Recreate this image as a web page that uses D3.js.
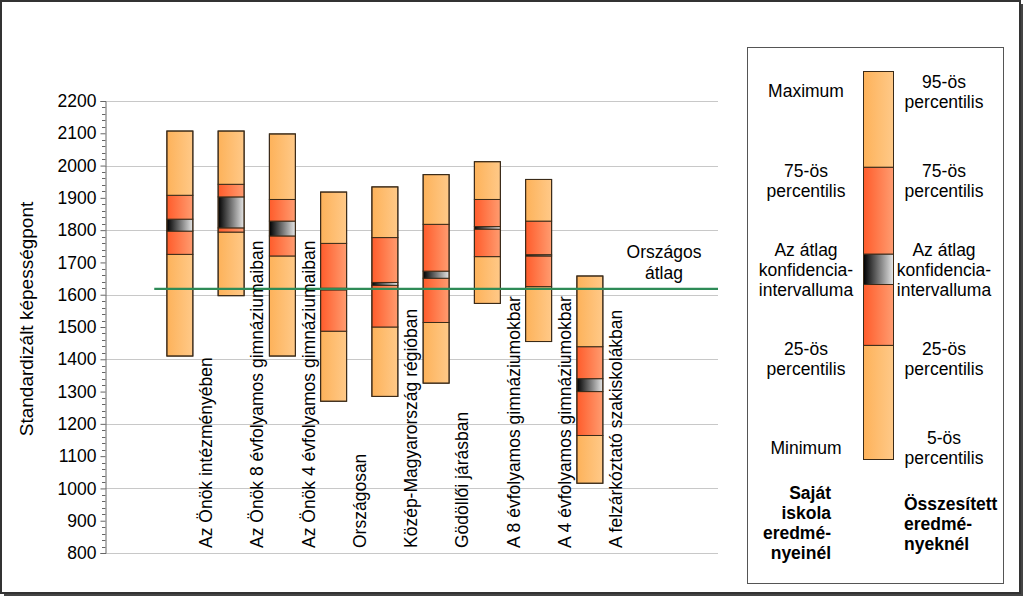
<!DOCTYPE html>
<html><head><meta charset="utf-8">
<script src="https://cdn.jsdelivr.net/npm/d3@7/dist/d3.min.js"></script>
<style>
body{margin:0;background:#fff;}
svg{display:block;font-family:"Liberation Sans",Arial,sans-serif;}
</style></head>
<body><svg id="c" width="1024" height="597"></svg>
<script>
const categories = ["Az Önök intézményében","Az Önök 8 évfolyamos gimnáziumaiban","Az Önök 4 évfolyamos gimnáziumaiban","Országosan","Közép-Magyarország régióban","Gödöllői járásban","A 8 évfolyamos gimnáziumokbar","A 4 évfolyamos gimnáziumokbar","A felzárkóztató szakiskolákban"];
const lowVals  = [1410, 1597, 1410, 1270, 1285, 1326, 1573, 1455, 1016];
const p25Vals  = [1725, 1794, 1720, 1487, 1500, 1514, 1718, 1625, 1164];
const ciLow    = [1797, 1807, 1782, 1615, 1629, 1651, 1803, 1720, 1300];
const ciHigh   = [1834, 1903, 1828, 1620, 1638, 1673, 1811, 1724, 1340];
const p75Vals  = [1908, 1942, 1895, 1759, 1777, 1818, 1895, 1828, 1439];
const highVals = [2107, 2107, 2098, 1918, 1934, 1972, 2012, 1957, 1658];
const nationalAvg = 1618;
const yTicks = [800,900,1000,1100,1200,1300,1400,1500,1600,1700,1800,1900,2000,2100,2200];
const gridTicks = [800,1000,1200,1400,1600,1800,2000,2200];
const legendLeft = [["Maximum"],["75-ös","percentilis"],["Az átlag","konfidencia-","intervalluma"],["25-ös","percentilis"],["Minimum"]];
const legendRight = [["95-ös","percentilis"],["75-ös","percentilis"],["Az átlag","konfidencia-","intervalluma"],["25-ös","percentilis"],["5-ös","percentilis"]];

const svg = d3.select("#c");
const defs = svg.append("defs");
function grad(id, c0, c1){
  const g = defs.append("linearGradient").attr("id",id).attr("x1","0").attr("x2","1").attr("y1","0").attr("y2","0");
  g.append("stop").attr("offset","0").attr("stop-color",c0);
  g.append("stop").attr("offset","1").attr("stop-color",c1);
}
grad("gO","#fdb25a","#ffc988");
grad("gR","#ff5c2b","#ff9c70");
grad("gC","#000000","#e6e6e6");

// outer frame
svg.append("rect").attr("x",1).attr("y",1).attr("width",1019).attr("height",592)
  .attr("fill","none").attr("stroke","#333").attr("stroke-width",2);
svg.append("line").attr("x1",1022).attr("x2",1022).attr("y1",4).attr("y2",595).attr("stroke","#444").attr("stroke-width",2);
svg.append("line").attr("x1",4).attr("x2",1023).attr("y1",595).attr("y2",595).attr("stroke","#444").attr("stroke-width",2);

const y = d3.scaleLinear().domain([800,2200]).range([553,101]);
const x = d3.scaleBand().domain(d3.range(-1,11)).range([103,718]);
const bw = 26;

// gridlines
svg.append("g").selectAll("line").data(gridTicks).join("line")
  .attr("x1",105).attr("x2",718).attr("y1",d=>Math.round(y(d))+0.5).attr("y2",d=>Math.round(y(d))+0.5)
  .attr("stroke","#c8c8c8").attr("stroke-width",1);

// axis
const axis = d3.axisLeft(y).tickValues(yTicks).tickSize(5).tickPadding(4).tickFormat(d3.format("d"));
const ag = svg.append("g").attr("transform","translate(105.5,0)").call(axis);
ag.select(".domain").attr("stroke","#666");
ag.selectAll(".tick line").attr("stroke","#666");
ag.selectAll("text").attr("font-size","17.5px").attr("fill","#000").attr("font-family","Liberation Sans, Arial, sans-serif");
const minor = d3.range(800,2201,20).filter(v=>v%100!==0);
svg.append("g").selectAll("line").data(minor).join("line")
  .attr("x1",102).attr("x2",105.5).attr("y1",d=>Math.round(y(d))+0.5).attr("y2",d=>Math.round(y(d))+0.5)
  .attr("stroke","#666");

// y title
svg.append("text").attr("transform","translate(33,319) rotate(-90)").attr("text-anchor","middle")
  .attr("font-size","19px").text("Standardizált képességpont");

// bars
const segs = (i)=>[
  [lowVals[i], p25Vals[i], "gO"],
  [p25Vals[i], ciLow[i], "gR"],
  [ciLow[i], ciHigh[i], "gC"],
  [ciHigh[i], p75Vals[i], "gR"],
  [p75Vals[i], highVals[i], "gO"]
];
const bars = svg.append("g");
categories.forEach((c,i)=>{
  const cx = x(i) + x.bandwidth()/2;
  const g = bars.append("g");
  segs(i).forEach(([a,b,f])=>{
    g.append("rect").attr("x",cx-bw/2).attr("width",bw)
      .attr("y",y(b)).attr("height",Math.max(0.5,y(a)-y(b)))
      .attr("fill",`url(#${f})`).attr("stroke","#3a2a18").attr("stroke-width",1);
  });
  g.append("rect").attr("x",cx-bw/2).attr("width",bw).attr("y",y(highVals[i])).attr("height",y(lowVals[i])-y(highVals[i]))
    .attr("fill","none").attr("stroke","#3a2a18").attr("stroke-width",1);
});

// national average line
svg.append("line").attr("x1",x(0)).attr("x2",x(10)+x.bandwidth()).attr("y1",y(nationalAvg)).attr("y2",y(nationalAvg))
  .attr("stroke","#2e8b57").attr("stroke-width",2.2);
svg.append("text").attr("x",664).attr("y",258).attr("text-anchor","middle").attr("font-size","17.5px").text("Országos");
svg.append("text").attr("x",664).attr("y",279).attr("text-anchor","middle").attr("font-size","17.5px").text("átlag");

// category labels
svg.append("g").selectAll("text").data(categories).join("text")
  .attr("transform",(d,i)=>`translate(${x(i)+x.bandwidth()+0.5+6},548) rotate(-90)`)
  .attr("text-anchor","start").attr("font-size","17.5px").text(d=>d);

// legend
svg.append("rect").attr("x",747.5).attr("y",47.5).attr("width",256).attr("height",536)
  .attr("fill","#fff").attr("stroke","#555").attr("stroke-width",1);
const ly = d3.scaleLinear().domain([0,1]).range([71.5,459.5]);
const legSegs = [[0,0.247,"gO"],[0.247,0.471,"gR"],[0.471,0.549,"gC"],[0.549,0.706,"gR"],[0.706,1,"gO"]];
legSegs.forEach(([a,b,f])=>{
  svg.append("rect").attr("x",863.5).attr("width",30).attr("y",ly(a)).attr("height",ly(b)-ly(a))
    .attr("fill",`url(#${f})`).attr("stroke","#3a2a18").attr("stroke-width",1);
});
const leftCenters = [91, 181, 270, 359, 448];
const rightCenters = [92, 181, 270, 359, 448];
function multi(lines, cx, cyc, anchor, bold){
  const n = lines.length;
  lines.forEach((t,k)=>{
    svg.append("text").attr("x",cx).attr("y",cyc + (k-(n-1)/2)*20 + 6)
      .attr("text-anchor",anchor).attr("font-size","17.5px")
      .attr("font-weight",bold?"bold":"normal").text(t);
  });
}
legendLeft.forEach((l,k)=>multi(l,806,leftCenters[k],"middle",false));
legendRight.forEach((l,k)=>multi(l,944,rightCenters[k],"middle",false));
multi(["Saját","iskola","eredmé-","nyeinél"],831,522.7,"end",true);
multi(["Összesített","eredmé-","nyeknél"],904,524,"start",true);
</script></body></html>
